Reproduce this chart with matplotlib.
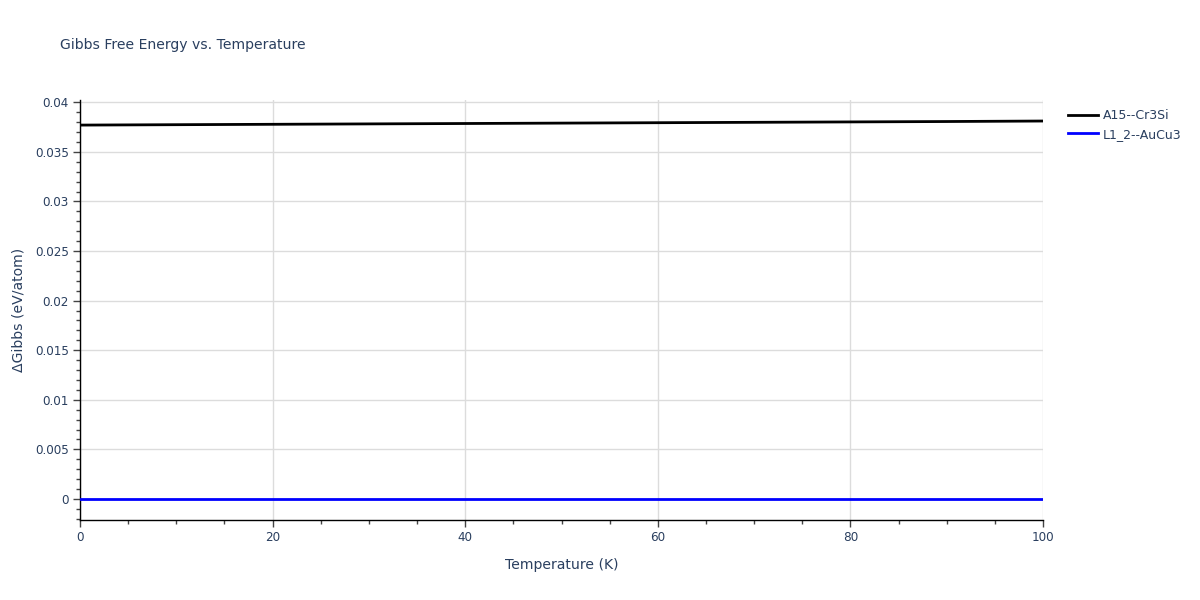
import matplotlib
matplotlib.use("Agg")
import matplotlib.pyplot as plt
from matplotlib.ticker import MultipleLocator

temperature = [0, 10, 20, 30, 40, 50, 60, 70, 80, 90, 100]
a15_cr3si = [0.03770, 0.03774, 0.03778, 0.03782, 0.03786, 0.03790, 0.03794, 0.03798, 0.03802, 0.03806, 0.03811]
l12_aucu3 = [0.0, 0.0, 0.0, 0.0, 0.0, 0.0, 0.0, 0.0, 0.0, 0.0, 0.0]

series_names = ["A15--Cr3Si", "L1_2--AuCu3"]
series_colors = ["black", "blue"]

plt.rcParams['font.family'] = ['DejaVu Sans']
txt = "#2a3f5f"
px = 0.72  # px -> pt at dpi 100

fig = plt.figure(figsize=(12, 6), dpi=100)
ax = fig.add_axes([80/1200, 80/600, (1043-80)/1200, 420/600])

for y, name, c in zip([a15_cr3si, l12_aucu3], series_names, series_colors):
    ax.plot(temperature, y, color=c, lw=2, label=name, zorder=3)

ax.set_xlim(0, 100)
ax.set_ylim(-0.00212, 0.04023)
ax.xaxis.set_major_locator(MultipleLocator(20))
ax.xaxis.set_minor_locator(MultipleLocator(5))
ax.yaxis.set_major_locator(MultipleLocator(0.005))
ax.yaxis.set_minor_locator(MultipleLocator(0.001))
ax.yaxis.set_major_formatter(matplotlib.ticker.FuncFormatter(lambda v, p: "0" if abs(v) < 1e-12 else f"{v:.3f}".rstrip("0")))

ax.grid(True, which="major", color="#dcdcdc", lw=1, zorder=0)
for s in ["top", "right"]:
    ax.spines[s].set_visible(False)
for s in ["left", "bottom"]:
    ax.spines[s].set_color("black")
    ax.spines[s].set_linewidth(1)

ax.tick_params(axis="both", which="major", direction="out", length=5, width=1, color="#444444",
               labelcolor=txt, labelsize=12*px, pad=3)
ax.tick_params(axis="both", which="minor", direction="out", length=3, width=1, color="#444444")

ax.set_xlabel("Temperature (K)", fontsize=14*px, color=txt, labelpad=10)
ax.set_ylabel("ΔGibbs (eV/atom)", fontsize=14*px, color=txt, labelpad=7)
fig.text(60/1200, 1-45/600, "Gibbs Free Energy vs. Temperature", fontsize=14*px, color=txt, va="center", ha="left")

leg = ax.legend(loc="upper left", bbox_to_anchor=(1068/1200, 1-109/600), bbox_transform=fig.transFigure,
                frameon=False, fontsize=12.5*px, handlelength=2.4, handletextpad=0.4, labelspacing=0.45,
                borderaxespad=0, borderpad=0)
for t in leg.get_texts():
    t.set_color(txt)

fig.savefig("out.png", dpi=100)
